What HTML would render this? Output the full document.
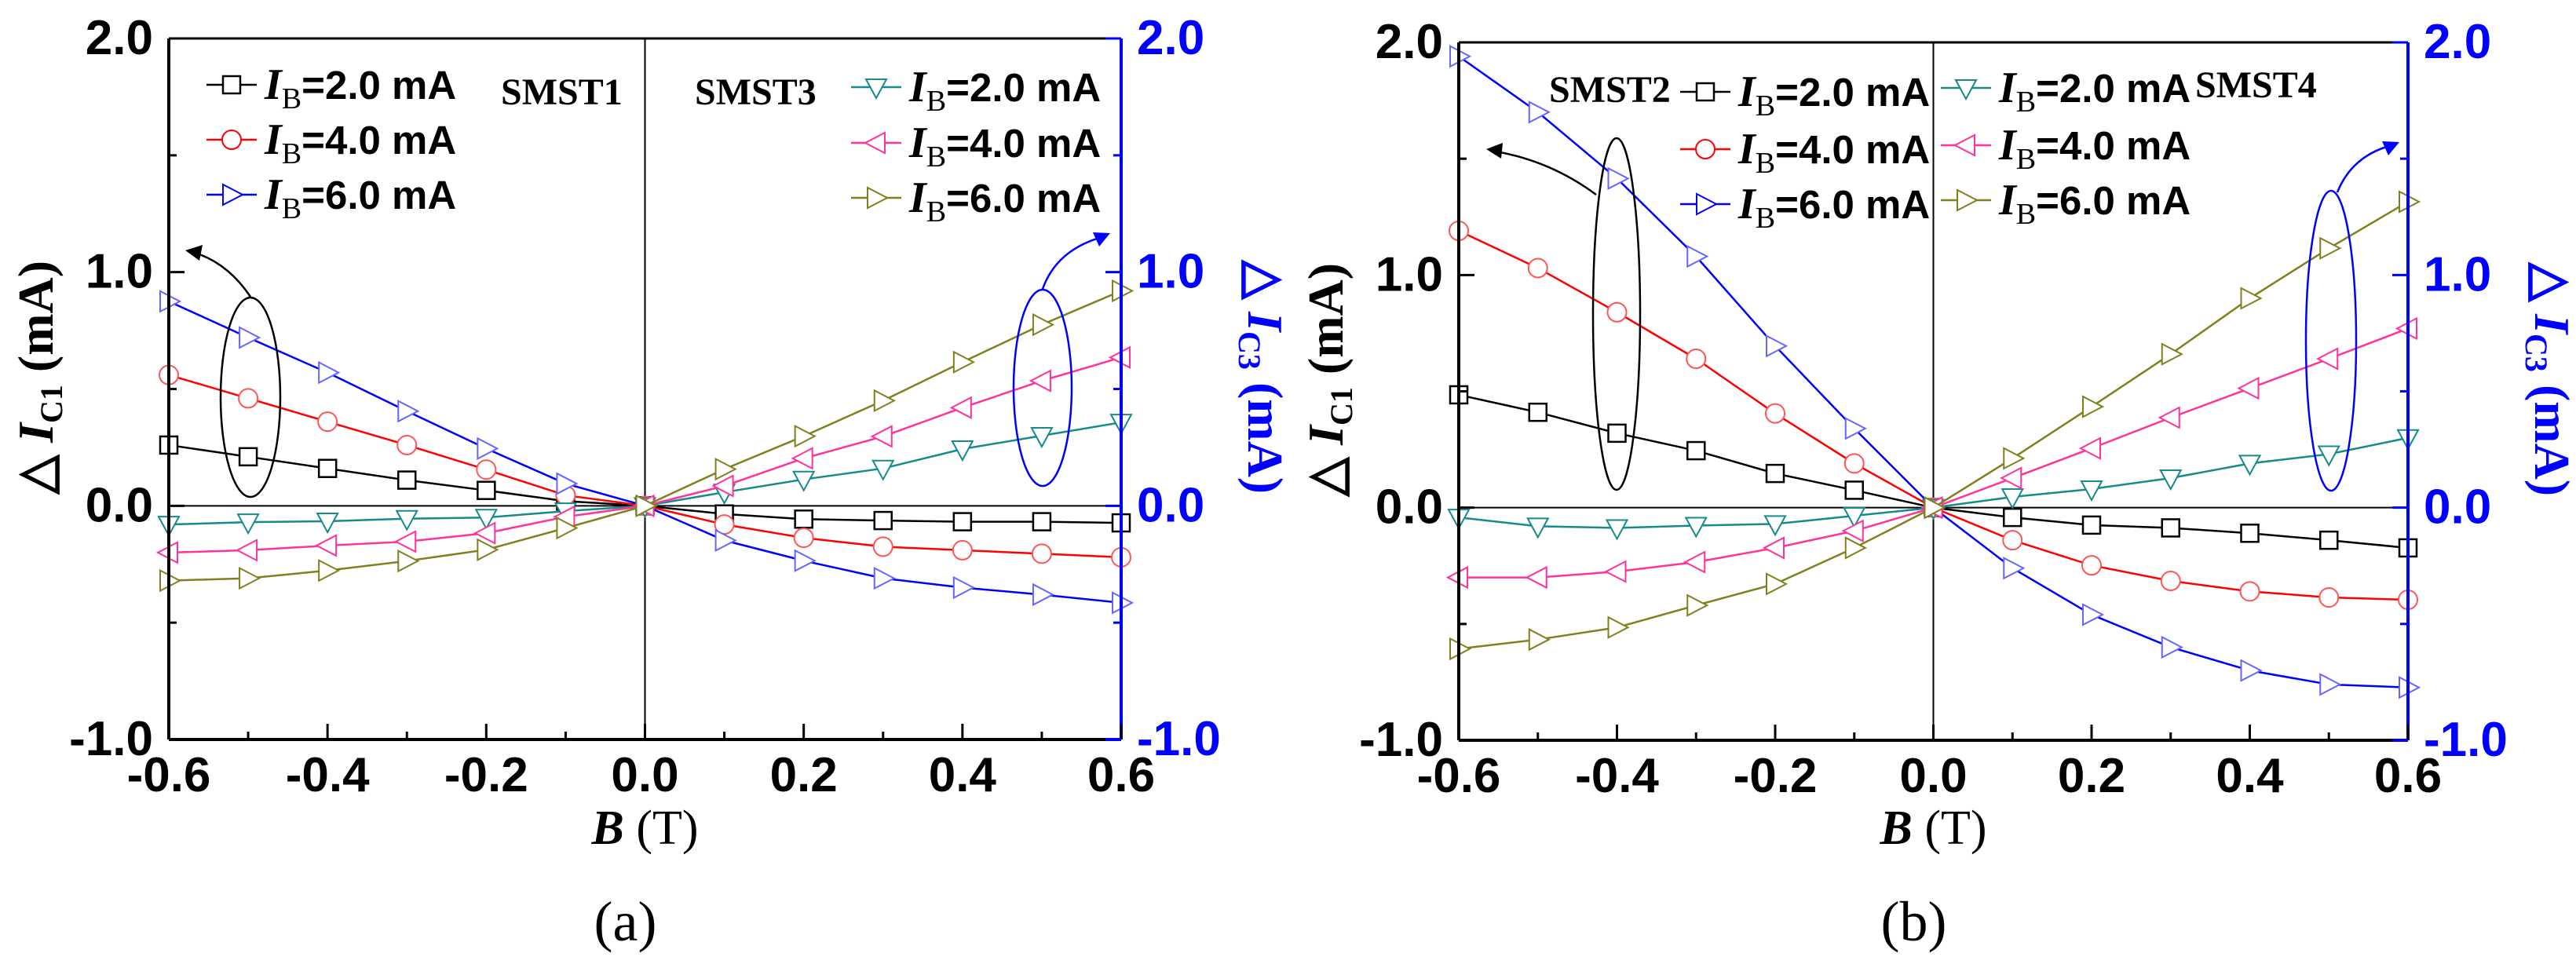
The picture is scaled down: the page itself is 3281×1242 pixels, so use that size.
<!DOCTYPE html>
<html><head><meta charset="utf-8"><style>
html,body{margin:0;padding:0;background:#fff;}
svg{display:block;}
.tk{font-family:"Liberation Sans",sans-serif;font-weight:bold;font-size:62px;}
.lg{font-family:"Liberation Sans",sans-serif;font-weight:bold;font-size:51px;}
.tm{font-family:"Liberation Serif",serif;}
</style></head><body>
<svg id="fig" width="3281" height="1242" viewBox="0 0 3281 1242" xmlns="http://www.w3.org/2000/svg"></svg>
<script>
const NS="http://www.w3.org/2000/svg";
const bValues=[-0.6,-0.5,-0.4,-0.3,-0.2,-0.1,0,0.1,0.2,0.3,0.4,0.5,0.6];
const xTicks=["-0.6","-0.4","-0.2","0.0","0.2","0.4","0.6"];
const yTicks=["-1.0","0.0","1.0","2.0"];
// panel (a)
const a_smst1_ib2=[0.26,0.21,0.16,0.11,0.066,0.02,0,-0.035,-0.057,-0.063,-0.068,-0.068,-0.073];
const a_smst1_ib4=[0.56,0.46,0.36,0.26,0.155,0.045,0,-0.08,-0.137,-0.175,-0.19,-0.205,-0.22];
const a_smst1_ib6=[0.875,0.72,0.57,0.405,0.245,0.095,0,-0.148,-0.235,-0.31,-0.35,-0.38,-0.415];
const a_smst3_ib2=[-0.08,-0.07,-0.066,-0.055,-0.05,-0.023,0,0.058,0.113,0.16,0.243,0.3,0.357];
const a_smst3_ib4=[-0.2,-0.19,-0.17,-0.153,-0.117,-0.047,0,0.085,0.203,0.297,0.42,0.535,0.635];
const a_smst3_ib6=[-0.32,-0.31,-0.277,-0.236,-0.188,-0.095,0,0.157,0.298,0.45,0.615,0.775,0.92];
// panel (b)
const b_smst2_ib2=[0.485,0.41,0.32,0.245,0.147,0.075,0,-0.042,-0.075,-0.087,-0.11,-0.14,-0.173];
const b_smst2_ib4=[1.19,1.03,0.84,0.64,0.405,0.19,0,-0.14,-0.248,-0.315,-0.36,-0.386,-0.396];
const b_smst2_ib6=[1.94,1.70,1.415,1.08,0.695,0.34,0,-0.26,-0.46,-0.6,-0.7,-0.76,-0.773];
const b_smst4_ib2=[-0.042,-0.08,-0.087,-0.077,-0.07,-0.035,0,0.046,0.08,0.127,0.19,0.23,0.3];
const b_smst4_ib4=[-0.3,-0.3,-0.275,-0.234,-0.173,-0.1,0,0.127,0.255,0.387,0.513,0.64,0.77];
const b_smst4_ib6=[-0.607,-0.567,-0.515,-0.42,-0.328,-0.173,0,0.212,0.434,0.66,0.9,1.115,1.315];

const svg=document.getElementById('fig');
function el(tag,attrs,parent,text){const e=document.createElementNS(NS,tag);for(const k in attrs)e.setAttribute(k,attrs[k]);if(text!==undefined)e.textContent=text;(parent||svg).appendChild(e);return e;}

function marker(g,type,x,y,color){
  const s=11;let m;
  if(type==='sq') m=el('rect',{x:x-s,y:y-s,width:2*s,height:2*s,fill:'#fff',stroke:color,'stroke-width':2.5},g);
  else if(type==='ci') m=el('circle',{cx:x,cy:y,r:s+1,fill:'#fff',stroke:color,'stroke-width':2},g);
  else {let p;
    if(type==='tr') p=[[x-s,y-s-2],[x+s+3,y],[x-s,y+s+2]];
    else if(type==='tl') p=[[x+s,y-s-2],[x-s-3,y],[x+s,y+s+2]];
    else p=[[x-s-2,y-s+1],[x+s+2,y-s+1],[x,y+s+3]];
    m=el('polygon',{points:p.map(q=>q.join(',')).join(' '),fill:'#fff',stroke:color,'stroke-width':2},g);}
  return m;
}

function panel(P){
  const X=v=>P.x0+(v+0.6)/1.2*(P.x1-P.x0);
  const Y=v=>P.y1-(v+1)/3*(P.y1-P.y0);
  const g=el('g',{},svg);
  
  
  el('line',{x1:X(0),y1:P.y0,x2:X(0),y2:P.y1,stroke:'#000','stroke-width':2},g);
  el('line',{x1:P.x0,y1:Y(0),x2:P.x1,y2:Y(0),stroke:'#000','stroke-width':2},g);
  P.series.forEach(s=>{
    const sg=el('g',{},g);
    
    
    const pts=bValues.map((b,i)=>X(b)+','+Y(s.data[i])).join(' ');
    el('polyline',{points:pts,fill:'none',stroke:s.color,'stroke-width':2.5},sg);
    bValues.forEach((b,i)=>{const m=marker(sg,s.m,X(b),Y(s.data[i]),s.mc||s.color);
      
      });
  });
  el('line',{x1:P.x0,y1:P.y0,x2:P.x0,y2:P.y1,stroke:'#000','stroke-width':4},g);
  el('line',{x1:P.x0,y1:P.y1,x2:P.x1,y2:P.y1,stroke:'#000','stroke-width':4},g);
  el('line',{x1:P.x0,y1:P.y0,x2:P.x1-20,y2:P.y0,stroke:'#000','stroke-width':3},g);
  el('line',{x1:P.x1-20,y1:P.y0,x2:P.x1,y2:P.y0,stroke:'#00f','stroke-width':3},g);
  el('line',{x1:P.x1-20,y1:P.y1,x2:P.x1,y2:P.y1,stroke:'#00f','stroke-width':4},g);
  el('line',{x1:P.x1,y1:P.y0,x2:P.x1,y2:P.y1,stroke:'#00f','stroke-width':4},g);
  bValues.forEach((b,i)=>{const major=i%2===0;
    el('line',{x1:X(b),y1:P.y1,x2:X(b),y2:P.y1-(major?20:10),stroke:'#000','stroke-width':3},g);});
  xTicks.forEach(t=>{const tx=el('text',{x:X(parseFloat(t)),y:P.y1+66,'text-anchor':'middle',class:'tk'},g,t);
    });
  for(let v=-1;v<=2.001;v+=0.5){const major=Math.abs(v-Math.round(v))<1e-6;
    el('line',{x1:P.x0,y1:Y(v),x2:P.x0+(major?20:10),y2:Y(v),stroke:'#000','stroke-width':3},g);
    el('line',{x1:P.x1,y1:Y(v),x2:P.x1-(major?20:10),y2:Y(v),stroke:'#00f','stroke-width':3},g);}
  yTicks.forEach(t=>{const v=parseFloat(t);
    const l=el('text',{x:P.x0-20,y:Y(v)+20,'text-anchor':'end',class:'tk'},g,t);
    
    const r=el('text',{x:P.x1+20,y:Y(v)+20,class:'tk',fill:'#00f'},g,t);
    });
  const lt=el('text',{transform:`translate(${P.x0-148},${(P.y0+P.y1)/2-15}) rotate(-90)`,'text-anchor':'middle',class:'tm','font-size':64,'font-weight':'bold'},g);
  
  lt.innerHTML='△  <tspan font-style="italic">I</tspan><tspan font-size="40" dy="12">C1</tspan><tspan dy="-12"> (mA)</tspan>';
  const rt=el('text',{transform:`translate(${P.x1+162},${(P.y0+P.y1)/2-15}) rotate(90)`,'text-anchor':'middle',class:'tm','font-size':64,'font-weight':'bold',fill:'#00f'},g);
  
  rt.innerHTML='△  <tspan font-style="italic">I</tspan><tspan font-size="40" dy="12">C3</tspan><tspan dy="-12"> (mA)</tspan>';
  const xt=el('text',{x:(P.x0+P.x1)/2,y:1075,'text-anchor':'middle',class:'tm','font-size':62},g);
  
  xt.innerHTML='<tspan font-style="italic" font-weight="bold">B</tspan> (T)';
  const pl=el('text',{x:(P.x0+P.x1)/2-25,y:1198,'text-anchor':'middle',class:'tm','font-size':72},g,P.label);
  
  P.legend.forEach(L=>{const lg=el('g',{},g);
    
    
    el('line',{x1:L.x,y1:L.y,x2:L.x+64,y2:L.y,stroke:L.color,'stroke-width':2.5},lg);
    marker(lg,L.m,L.x+32,L.y,L.color);
    const t=el('text',{x:L.x+74,y:L.y+18,class:'lg'},lg);
    t.innerHTML='<tspan class="tm" font-style="italic" font-size="56">I</tspan><tspan class="tm" font-weight="normal" font-size="38" dy="12">B</tspan><tspan dy="-12">=</tspan>'+L.t;});
  P.texts.forEach(T=>{const t=el('text',{x:T.x,y:T.y,class:'tm','font-size':48,'font-weight':'bold'},g,T.s);
    });
  P.ells.forEach(E=>{const e=el('ellipse',{cx:E.cx,cy:E.cy,rx:E.rx,ry:E.ry,fill:'none',stroke:E.c,'stroke-width':2.5},g);
    
    const a=el('path',{d:E.d,fill:'none',stroke:E.c,'stroke-width':2.5},g);
    
    el('polygon',{points:E.h,fill:E.c},g);});
}

panel({name:'panel-a',x0:215,x1:1428,y0:49,y1:942,label:'(a)',
  series:[
   {name:'smst1-ib2',data:a_smst1_ib2,color:'#000',m:'sq'},
   {name:'smst1-ib4',data:a_smst1_ib4,color:'#f00',m:'ci',mc:'#f55'},
   {name:'smst1-ib6',data:a_smst1_ib6,color:'#00f',m:'tr',mc:'#66f'},
   {name:'smst3-ib2',data:a_smst3_ib2,color:'#178a8a',m:'td'},
   {name:'smst3-ib4',data:a_smst3_ib4,color:'#ff3399',m:'tl'},
   {name:'smst3-ib6',data:a_smst3_ib6,color:'#80801f',m:'tr'}],
  legend:[
   {x:263,y:108,color:'#000',m:'sq',t:'2.0 mA'},
   {x:263,y:178,color:'#f00',m:'ci',t:'4.0 mA'},
   {x:263,y:248,color:'#00f',m:'tr',t:'6.0 mA'},
   {x:1084,y:111,color:'#178a8a',m:'td',t:'2.0 mA'},
   {x:1084,y:182,color:'#ff3399',m:'tl',t:'4.0 mA'},
   {x:1084,y:252,color:'#80801f',m:'tr',t:'6.0 mA'}],
  texts:[{x:638,y:133,s:'SMST1'},{x:885,y:133,s:'SMST3'}],
  ells:[
   {cx:319,cy:506,rx:38,ry:127,c:'#000',d:'M319,378 Q290,335 248,322',h:'236,319 258,312 254,332'},
   {cx:1328,cy:494,rx:37,ry:125,c:'#00f',d:'M1328,368 Q1345,320 1400,303',h:'1414,297 1392,296 1400,314'}]
});
panel({name:'panel-b',x0:1858,x1:3067,y0:54,y1:943,label:'(b)',
  series:[
   {name:'smst2-ib2',data:b_smst2_ib2,color:'#000',m:'sq'},
   {name:'smst2-ib4',data:b_smst2_ib4,color:'#f00',m:'ci',mc:'#f55'},
   {name:'smst2-ib6',data:b_smst2_ib6,color:'#00f',m:'tr',mc:'#66f'},
   {name:'smst4-ib2',data:b_smst4_ib2,color:'#178a8a',m:'td'},
   {name:'smst4-ib4',data:b_smst4_ib4,color:'#ff3399',m:'tl'},
   {name:'smst4-ib6',data:b_smst4_ib6,color:'#80801f',m:'tr'}],
  legend:[
   {x:2140,y:117,color:'#000',m:'sq',t:'2.0 mA'},
   {x:2140,y:190,color:'#f00',m:'ci',t:'4.0 mA'},
   {x:2140,y:260,color:'#00f',m:'tr',t:'6.0 mA'},
   {x:2472,y:112,color:'#178a8a',m:'td',t:'2.0 mA'},
   {x:2472,y:185,color:'#ff3399',m:'tl',t:'4.0 mA'},
   {x:2472,y:255,color:'#80801f',m:'tr',t:'6.0 mA'}],
  texts:[{x:1973,y:130,s:'SMST2'},{x:2796,y:124,s:'SMST4'}],
  ells:[
   {cx:2059,cy:400,rx:30,ry:224,c:'#000',d:'M2033,248 Q1975,205 1905,193',h:'1893,190 1914,182 1912,202'},
   {cx:2969,cy:434,rx:32,ry:191,c:'#00f',d:'M2977,245 Q2995,200 3043,186',h:'3056,181 3034,180 3042,198'}]
});
</script>
</body></html>
